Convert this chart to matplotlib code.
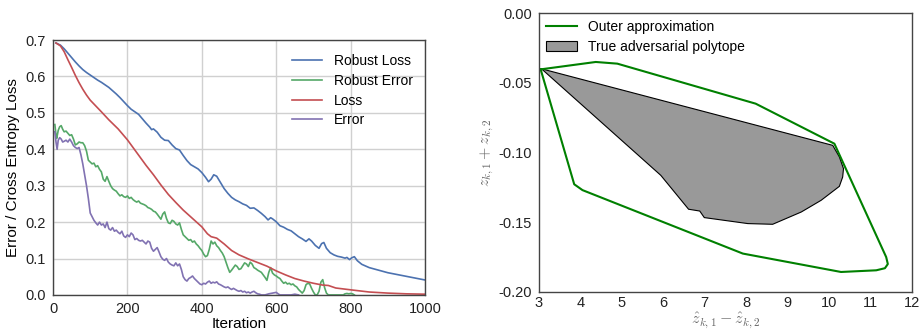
import matplotlib
matplotlib.use("Agg")
import matplotlib.pyplot as plt
from matplotlib.patches import Polygon

plt.rcParams['font.family'] = ['Liberation Sans', 'DejaVu Sans']
plt.rcParams['mathtext.fontset'] = 'cm'

# ---- left panel: training curves ----
rl_iter = [8, 20, 30, 40, 50, 60, 70, 80, 90, 100, 110, 120, 130, 140, 150, 160, 170, 180, 190, 200,
           210, 220, 230, 240, 250, 260, 265, 270, 280, 290, 300, 310, 320, 330, 340, 350, 360, 370,
           380, 390, 400, 410, 418, 425, 432, 440, 450, 460, 470, 480, 490, 500, 510, 520, 530, 540,
           550, 560, 570, 578, 585, 590, 600, 610, 620, 630, 640, 650, 660, 670, 680, 688, 695, 705,
           715, 722, 728, 735, 745, 755, 765, 775, 785, 790, 797, 803, 810, 818, 830, 850, 875, 900,
           925, 950, 975, 1000]
robust_loss = [0.692, 0.686, 0.676, 0.664, 0.652, 0.640, 0.629, 0.619, 0.611, 0.604, 0.597, 0.590,
               0.584, 0.577, 0.570, 0.561, 0.552, 0.542, 0.531, 0.520, 0.510, 0.503, 0.496, 0.484,
               0.472, 0.461, 0.454, 0.456, 0.447, 0.433, 0.425, 0.424, 0.412, 0.402, 0.398, 0.383,
               0.369, 0.358, 0.352, 0.346, 0.336, 0.323, 0.311, 0.318, 0.330, 0.326, 0.309, 0.292,
               0.279, 0.268, 0.261, 0.256, 0.250, 0.246, 0.238, 0.239, 0.232, 0.224, 0.215, 0.206,
               0.212, 0.209, 0.201, 0.190, 0.186, 0.180, 0.176, 0.168, 0.160, 0.154, 0.147, 0.154,
               0.148, 0.136, 0.128, 0.141, 0.144, 0.128, 0.116, 0.110, 0.106, 0.104, 0.101, 0.103,
               0.097, 0.102, 0.105, 0.094, 0.084, 0.075, 0.068, 0.061, 0.056, 0.051, 0.046, 0.041]

loss_iter = [8, 20, 30, 40, 50, 60, 70, 80, 90, 100, 115, 130, 150, 175, 200, 225, 250, 270, 290,
             310, 330, 350, 375, 400, 415, 425, 440, 460, 480, 500, 525, 550, 575, 600, 625, 650,
             675, 700, 725, 740, 760, 800, 850, 900, 950, 1000]
loss = [0.692, 0.684, 0.668, 0.646, 0.625, 0.603, 0.583, 0.565, 0.549, 0.535, 0.519, 0.503, 0.481,
        0.456, 0.426, 0.391, 0.356, 0.330, 0.302, 0.276, 0.254, 0.233, 0.210, 0.187, 0.168, 0.160,
        0.156, 0.140, 0.122, 0.110, 0.099, 0.089, 0.079, 0.066, 0.055, 0.045, 0.038, 0.032, 0.027,
        0.026, 0.019, 0.014, 0.008, 0.005, 0.003, 0.002]

re_iter = [5, 8, 10, 14, 18, 22, 26, 30, 35, 40, 45, 50, 55, 60, 65, 70, 75, 80, 85, 90, 95, 100,
           105, 110, 115, 120, 125, 130, 135, 140, 145, 150, 155, 160, 165, 170, 175, 180, 185, 190,
           195, 200, 205, 210, 215, 220, 225, 230, 235, 240, 245, 250, 255, 260, 265, 270, 275, 280,
           285, 290, 295, 300, 305, 310, 315, 320, 325, 330, 335, 340, 345, 350, 355, 360, 365, 370,
           375, 380, 385, 390, 395, 400, 405, 410, 415, 420, 425, 430, 435, 440, 445, 450, 455, 460,
           465, 470, 475, 480, 485, 490, 495, 500, 505, 510, 515, 520, 525, 530, 535, 540, 545, 550,
           555, 560, 565, 570, 575, 580, 585, 590, 595, 600, 605, 610, 615, 620, 625, 630, 635, 640,
           645, 650, 655, 660, 665, 670, 675, 680, 685, 690, 695, 700, 705, 710, 715, 720, 725, 730,
           735, 740, 780, 785, 790, 795, 800, 805, 810]
robust_error = [0.468, 0.440, 0.430, 0.452, 0.462, 0.465, 0.455, 0.448, 0.450, 0.444, 0.438, 0.440,
                0.428, 0.412, 0.415, 0.420, 0.418, 0.418, 0.410, 0.395, 0.370, 0.365, 0.360, 0.362,
                0.352, 0.355, 0.345, 0.338, 0.318, 0.312, 0.325, 0.312, 0.300, 0.292, 0.288, 0.285,
                0.278, 0.272, 0.275, 0.270, 0.268, 0.272, 0.265, 0.268, 0.262, 0.258, 0.255, 0.258,
                0.252, 0.250, 0.248, 0.245, 0.240, 0.238, 0.235, 0.230, 0.228, 0.222, 0.215, 0.208,
                0.222, 0.228, 0.210, 0.198, 0.196, 0.205, 0.202, 0.195, 0.192, 0.198, 0.180, 0.165,
                0.160, 0.155, 0.150, 0.152, 0.145, 0.148, 0.140, 0.135, 0.128, 0.122, 0.112, 0.105,
                0.108, 0.125, 0.148, 0.140, 0.145, 0.135, 0.130, 0.122, 0.115, 0.105, 0.090, 0.075,
                0.062, 0.068, 0.075, 0.082, 0.078, 0.070, 0.072, 0.080, 0.088, 0.085, 0.078, 0.090,
                0.085, 0.075, 0.072, 0.068, 0.065, 0.062, 0.055, 0.048, 0.040, 0.062, 0.075, 0.060,
                0.055, 0.052, 0.048, 0.045, 0.038, 0.032, 0.035, 0.030, 0.032, 0.028, 0.030, 0.025,
                0.022, 0.015, 0.010, 0.005, 0.012, 0.028, 0.032, 0.030, 0.018, 0.008, 0.0, 0.0,
                0.010, 0.035, 0.042, 0.020, 0.005, 0.0, 0.0, 0.003, 0.004, 0.003, 0.004, 0.003, 0.0]

err_iter = [5, 8, 11, 14, 18, 22, 26, 30, 35, 40, 45, 50, 55, 60, 65, 70, 75, 80, 85, 90, 95, 100,
            105, 110, 115, 120, 125, 130, 135, 140, 145, 150, 155, 160, 165, 170, 175, 180, 185, 190,
            195, 200, 205, 210, 215, 220, 225, 230, 235, 240, 245, 250, 255, 260, 265, 270, 275, 280,
            285, 290, 295, 300, 305, 310, 315, 320, 325, 330, 335, 340, 345, 350, 355, 360, 365, 370,
            375, 380, 385, 390, 395, 400, 405, 410, 415, 420, 425, 430, 435, 440, 445, 450, 455, 460,
            465, 470, 475, 480, 485, 490, 495, 500, 505, 510, 515, 520, 525, 530, 535, 540, 545, 550,
            555, 560, 570, 580, 590, 595, 600, 605, 610, 640, 650, 660]
error = [0.448, 0.420, 0.400, 0.425, 0.432, 0.428, 0.420, 0.422, 0.425, 0.420, 0.428, 0.420, 0.410,
         0.405, 0.402, 0.405, 0.385, 0.360, 0.330, 0.300, 0.265, 0.225, 0.215, 0.205, 0.198, 0.192,
         0.200, 0.192, 0.195, 0.185, 0.200, 0.182, 0.178, 0.185, 0.175, 0.178, 0.172, 0.168, 0.175,
         0.162, 0.158, 0.165, 0.160, 0.170, 0.165, 0.152, 0.155, 0.150, 0.148, 0.150, 0.145, 0.140,
         0.148, 0.145, 0.128, 0.120, 0.125, 0.130, 0.118, 0.105, 0.098, 0.095, 0.100, 0.090, 0.085,
         0.082, 0.080, 0.088, 0.080, 0.085, 0.070, 0.050, 0.042, 0.038, 0.045, 0.048, 0.052, 0.045,
         0.040, 0.035, 0.030, 0.028, 0.032, 0.030, 0.035, 0.038, 0.032, 0.035, 0.033, 0.036, 0.030,
         0.028, 0.025, 0.022, 0.020, 0.022, 0.018, 0.015, 0.018, 0.015, 0.012, 0.010, 0.012, 0.008,
         0.010, 0.006, 0.008, 0.005, 0.008, 0.010, 0.006, 0.003, 0.002, 0.0, 0.0, 0.003, 0.005,
         0.006, 0.007, 0.003, 0.0, 0.0, 0.002, 0.0]

# ---- right panel: polytopes ----
outer_x = [3.04, 4.37, 4.89, 8.23, 10.13, 11.38, 11.42, 11.35, 11.14, 10.29, 7.92, 4.05, 3.85, 3.04]
outer_y = [-0.0404, -0.0351, -0.0363, -0.065, -0.0937, -0.175, -0.180, -0.183, -0.1845, -0.1857,
           -0.1725, -0.127, -0.1228, -0.0404]
true_x = [3.06, 10.09, 10.25, 10.35, 10.33, 10.25, 9.81, 9.33, 8.64, 8.04, 6.99, 6.88, 6.61, 5.94]
true_y = [-0.040, -0.0949, -0.1032, -0.1116, -0.1176, -0.1243, -0.1343, -0.1427, -0.1515, -0.151,
          -0.1467, -0.142, -0.1407, -0.1164]

colors = ['#4C72B0', '#55A868', '#C44E52', '#8172B2']
spine_col = '#444444'

fig = plt.figure(figsize=(9.22, 3.34), dpi=100)
ax1 = fig.add_axes([0.0575, 0.117, 0.4035, 0.763])
ax2 = fig.add_axes([0.5846, 0.126, 0.4044, 0.835])

ax1.plot(rl_iter, robust_loss, color=colors[0], lw=1.2, label='Robust Loss')
ax1.plot(re_iter, robust_error, color=colors[1], lw=1.2, label='Robust Error')
ax1.plot(loss_iter, loss, color=colors[2], lw=1.2, label='Loss')
ax1.plot(err_iter, error, color=colors[3], lw=1.2, label='Error')
ax1.set_xlim(0, 1000)
ax1.set_ylim(0, 0.7)
ax1.set_xticks([0, 200, 400, 600, 800, 1000])
ax1.set_yticks([0.0, 0.1, 0.2, 0.3, 0.4, 0.5, 0.6, 0.7])
ax1.set_yticklabels(['%.1f' % v for v in ax1.get_yticks()])
ax1.grid(True, color='#d0d0d0', lw=1)
ax1.set_axisbelow(True)
ax1.set_xlabel('Iteration', fontsize=11, labelpad=1)
ax1.set_ylabel('Error / Cross Entropy Loss', fontsize=11, labelpad=4)
ax1.legend(loc='upper right', frameon=False, fontsize=10, handlelength=2.2,
           labelspacing=0.42, bbox_to_anchor=(1.0, 0.995))

ax2.add_patch(Polygon(list(zip(true_x, true_y)), closed=True, facecolor='#999999',
                      edgecolor='black', lw=0.8, label='True adversarial polytope'))
ax2.plot(outer_x, outer_y, color='green', lw=1.5, label='Outer approximation')
ax2.set_xlim(3, 12)
ax2.set_ylim(-0.2, 0.0)
ax2.set_xticks(range(3, 13))
ax2.set_yticks([-0.20, -0.15, -0.10, -0.05, 0.00])
ax2.set_yticklabels(['%.2f' % v for v in ax2.get_yticks()])
ax2.set_xlabel(r'$\hat{z}_{k,1} - \hat{z}_{k,2}$', fontsize=11.5, color='#666666', labelpad=0)
ax2.set_ylabel(r'$z_{k,1} + z_{k,2}$', fontsize=11.5, color='#666666', labelpad=2)
h, l = ax2.get_legend_handles_labels()
ax2.legend(h[::-1], l[::-1], loc='upper left', frameon=False, fontsize=10, handlelength=2.2,
           labelspacing=0.42, borderaxespad=0.1)

for ax in (ax1, ax2):
    for s in ax.spines.values():
        s.set_color(spine_col)
        s.set_linewidth(1.0)
    ax.tick_params(length=0, labelsize=10.5, colors='#222222', pad=5)
ax2.tick_params(axis='x', pad=3)

fig.savefig('out.png', dpi=100)
